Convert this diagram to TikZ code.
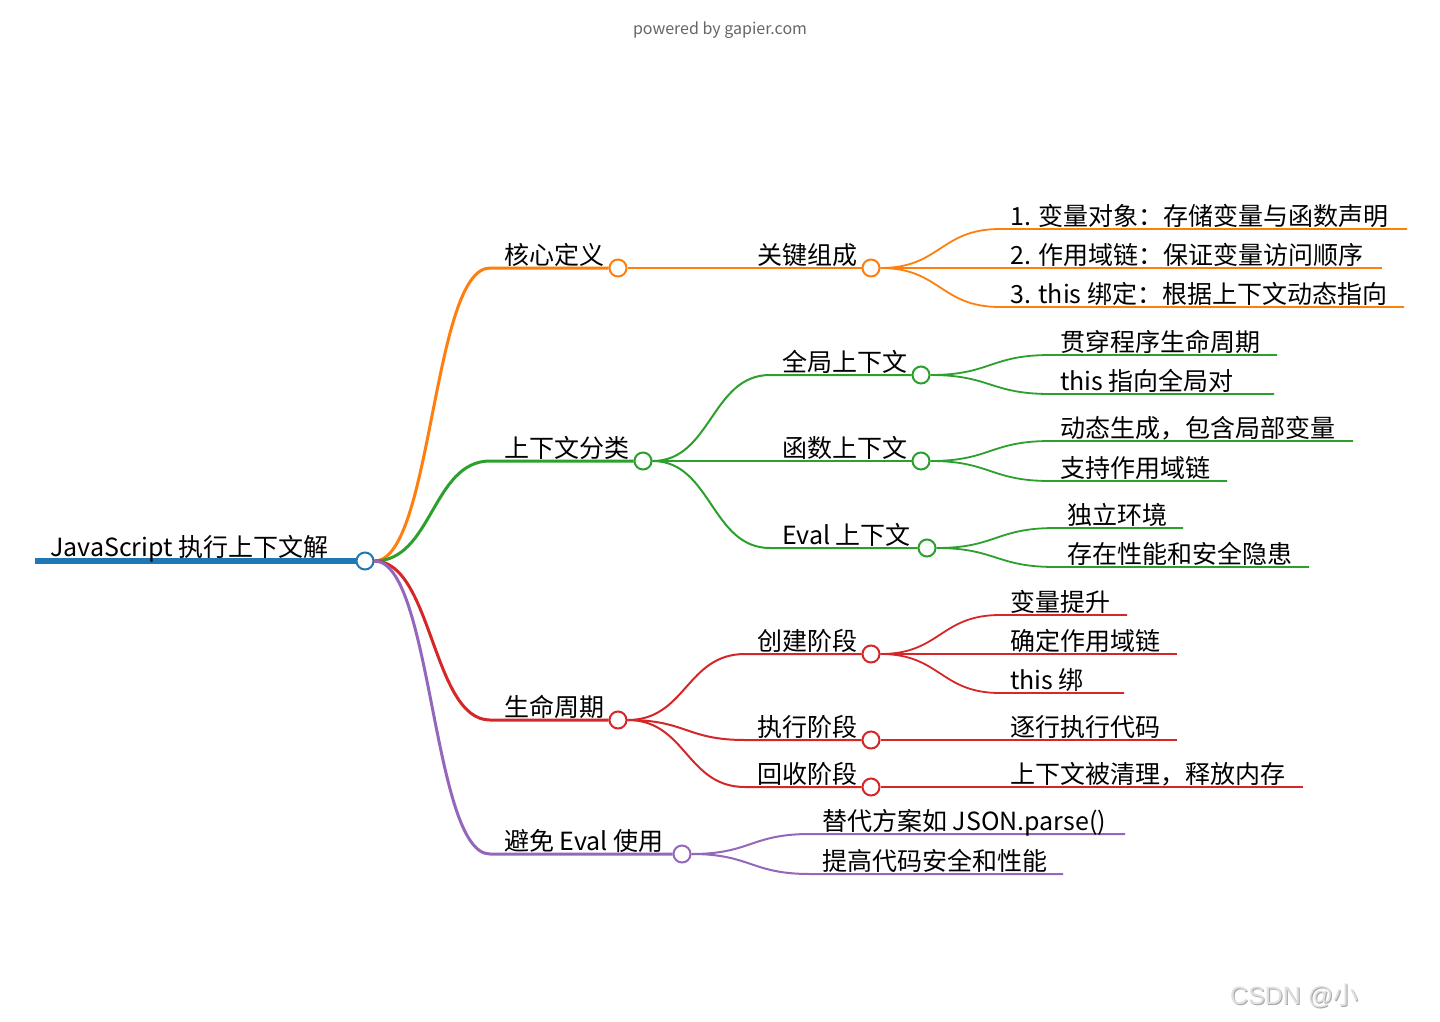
\documentclass[tikz,border=0pt]{standalone}
\usepackage{fontspec}
\setmainfont{Noto Sans CJK SC}
\newfontfamily\wmfont{Liberation Sans}
\newfontfamily\wmcjk{Noto Sans CJK SC}
\usetikzlibrary{calc}
\definecolor{cblue}{HTML}{1F77B4}
\definecolor{corange}{HTML}{FF7F0E}
\definecolor{cgreen}{HTML}{2CA02C}
\definecolor{cred}{HTML}{D62728}
\definecolor{cpurple}{HTML}{9467BD}
\definecolor{ctitle}{HTML}{666666}
\newcommand\mmcurve[4]{\draw[#1] let \p1=(#2), \p2=(#3) in (\p1) .. controls ({(\x1+\x2)/2},\y1) and ({(\x1+\x2)/2},\y2) .. (\p2) -- (#4);}
\begin{document}
\begin{tikzpicture}[x=1pt,y=-1pt,
  lbl/.style={anchor=base west, inner sep=0pt, font=\fontsize{25}{29}\selectfont, text=black},
  dot/.style={circle, draw=#1, fill=white, line width=2pt, minimum size=17pt, inner sep=0pt},
  lone/.style={line width=3pt, #1},
  ltwo/.style={line width=2pt, #1},
  lthree/.style={line width=1.8pt, #1}]
\useasboundingbox (0,0) rectangle (1440,1021);
\fill[white] (0,0) rectangle (1440,1021);

\node[anchor=center, inner sep=0pt, text=ctitle, font=\fontsize{16}{18}\selectfont] (title) at (720,30.5) {powered by gapier.com};

% coordinates
\coordinate (r0) at (35,561);
\coordinate (a0) at (490,268);
\coordinate (b0) at (490,461);
\coordinate (c0) at (490,720);
\coordinate (d0) at (490,854);
\coordinate (a10) at (745,268);
\coordinate (b10) at (770,375);
\coordinate (b20) at (770,461);
\coordinate (b30) at (770,548);
\coordinate (c10) at (745,654);
\coordinate (c20) at (745,740);
\coordinate (c30) at (745,787);
\coordinate (a11s) at (1000,229); \coordinate (a11e) at (1407,229);
\coordinate (a12s) at (1000,268); \coordinate (a12e) at (1382,268);
\coordinate (a13s) at (1000,307); \coordinate (a13e) at (1404,307);
\coordinate (b11s) at (1050,355); \coordinate (b11e) at (1277,355);
\coordinate (b12s) at (1050,394); \coordinate (b12e) at (1274,394);
\coordinate (b21s) at (1050,441); \coordinate (b21e) at (1353,441);
\coordinate (b22s) at (1050,481); \coordinate (b22e) at (1227,481);
\coordinate (b31s) at (1055,528); \coordinate (b31e) at (1183,528);
\coordinate (b32s) at (1055,567); \coordinate (b32e) at (1309,567);
\coordinate (c11s) at (1000,615); \coordinate (c11e) at (1127,615);
\coordinate (c12s) at (1000,654); \coordinate (c12e) at (1177,654);
\coordinate (c13s) at (1000,693); \coordinate (c13e) at (1124,693);
\coordinate (c21s) at (1000,740); \coordinate (c21e) at (1177,740);
\coordinate (c31s) at (1000,787); \coordinate (c31e) at (1303,787);
\coordinate (d1s) at (810,834); \coordinate (d1e) at (1125,834);
\coordinate (d2s) at (810,874); \coordinate (d2e) at (1063,874);

% circles
\node[dot=cblue] (R) at (365,561) {};
\node[dot=corange] (A) at (618,268) {};
\node[dot=cgreen] (B) at (643,461) {};
\node[dot=cred] (C) at (618,720) {};
\node[dot=cpurple] (D) at (682,854) {};
\node[dot=corange] (A1) at (871,268) {};
\node[dot=cgreen] (B1) at (921,375) {};
\node[dot=cgreen] (B2) at (921,461) {};
\node[dot=cgreen] (B3) at (927,548) {};
\node[dot=cred] (C1) at (871,654) {};
\node[dot=cred] (C2) at (871,740) {};
\node[dot=cred] (C3) at (871,787) {};

% edges
\draw[line width=5.5pt, cblue] (r0) -- (R.west);
\mmcurve{lone=corange}{R.east}{a0}{A.west}
\mmcurve{lone=cgreen}{R.east}{b0}{B.west}
\mmcurve{lone=cred}{R.east}{c0}{C.west}
\mmcurve{lone=cpurple}{R.east}{d0}{D.west}

\mmcurve{ltwo=corange}{A.east}{a10}{A1.west}
\mmcurve{ltwo=cgreen}{B.east}{b10}{B1.west}
\mmcurve{ltwo=cgreen}{B.east}{b20}{B2.west}
\mmcurve{ltwo=cgreen}{B.east}{b30}{B3.west}
\mmcurve{ltwo=cred}{C.east}{c10}{C1.west}
\mmcurve{ltwo=cred}{C.east}{c20}{C2.west}
\mmcurve{ltwo=cred}{C.east}{c30}{C3.west}

\mmcurve{lthree=corange}{A1.east}{a11s}{a11e}
\mmcurve{lthree=corange}{A1.east}{a12s}{a12e}
\mmcurve{lthree=corange}{A1.east}{a13s}{a13e}
\mmcurve{lthree=cgreen}{B1.east}{b11s}{b11e}
\mmcurve{lthree=cgreen}{B1.east}{b12s}{b12e}
\mmcurve{lthree=cgreen}{B2.east}{b21s}{b21e}
\mmcurve{lthree=cgreen}{B2.east}{b22s}{b22e}
\mmcurve{lthree=cgreen}{B3.east}{b31s}{b31e}
\mmcurve{lthree=cgreen}{B3.east}{b32s}{b32e}
\mmcurve{lthree=cred}{C1.east}{c11s}{c11e}
\mmcurve{lthree=cred}{C1.east}{c12s}{c12e}
\mmcurve{lthree=cred}{C1.east}{c13s}{c13e}
\mmcurve{lthree=cred}{C2.east}{c21s}{c21e}
\mmcurve{lthree=cred}{C3.east}{c31s}{c31e}
\mmcurve{ltwo=cpurple}{D.east}{d1s}{d1e}
\mmcurve{ltwo=cpurple}{D.east}{d2s}{d2e}

% labels
\node[lbl] (tR) at (50,556) {JavaScript 执行上下文解};
\node[lbl] (tA) at (504,264) {核心定义};
\node[lbl] (tB) at (504,457) {上下文分类};
\node[lbl] (tC) at (504,716) {生命周期};
\node[lbl] (tD) at (504,850) {避免 Eval 使用};
\node[lbl] (tA1) at (757,264) {关键组成};
\node[lbl] (tB1) at (782,371) {全局上下文};
\node[lbl] (tB2) at (782,457) {函数上下文};
\node[lbl] (tB3) at (782,544) {Eval 上下文};
\node[lbl] (tC1) at (757,650) {创建阶段};
\node[lbl] (tC2) at (757,736) {执行阶段};
\node[lbl] (tC3) at (757,783) {回收阶段};
\node[lbl] (tA11) at (1010,225.5) {1. 变量对象：存储变量与函数声明};
\node[lbl] (tA12) at (1010,264.5) {2. 作用域链：保证变量访问顺序};
\node[lbl] (tA13) at (1010,303.5) {3. this 绑定：根据上下文动态指向};
\node[lbl] (tB11) at (1060,351.5) {贯穿程序生命周期};
\node[lbl] (tB12) at (1060,390.5) {this 指向全局对};
\node[lbl] (tB21) at (1060,437.5) {动态生成，包含局部变量};
\node[lbl] (tB22) at (1060,477.5) {支持作用域链};
\node[lbl] (tB31) at (1067,524.5) {独立环境};
\node[lbl] (tB32) at (1067,563.5) {存在性能和安全隐患};
\node[lbl] (tC11) at (1010,611.5) {变量提升};
\node[lbl] (tC12) at (1010,650.5) {确定作用域链};
\node[lbl] (tC13) at (1010,689.5) {this 绑};
\node[lbl] (tC21) at (1010,736.5) {逐行执行代码};
\node[lbl] (tC31) at (1010,783.5) {上下文被清理，释放内存};
\node[lbl] (tD1) at (822,830.5) {替代方案如 JSON.parse()};
\node[lbl] (tD2) at (822,870.5) {提高代码安全和性能};

% watermark
\node[anchor=base west, inner sep=0pt, text=black!35, font=\wmfont\fontsize{25}{28}\selectfont] (wms) at (1231,1005) {CSDN @{\wmcjk 小}};
\node[anchor=base west, inner sep=0pt, text=black!12, font=\wmfont\fontsize{25}{28}\selectfont] (wm) at (1230,1004) {CSDN @{\wmcjk 小}};
\end{tikzpicture}
\end{document}
